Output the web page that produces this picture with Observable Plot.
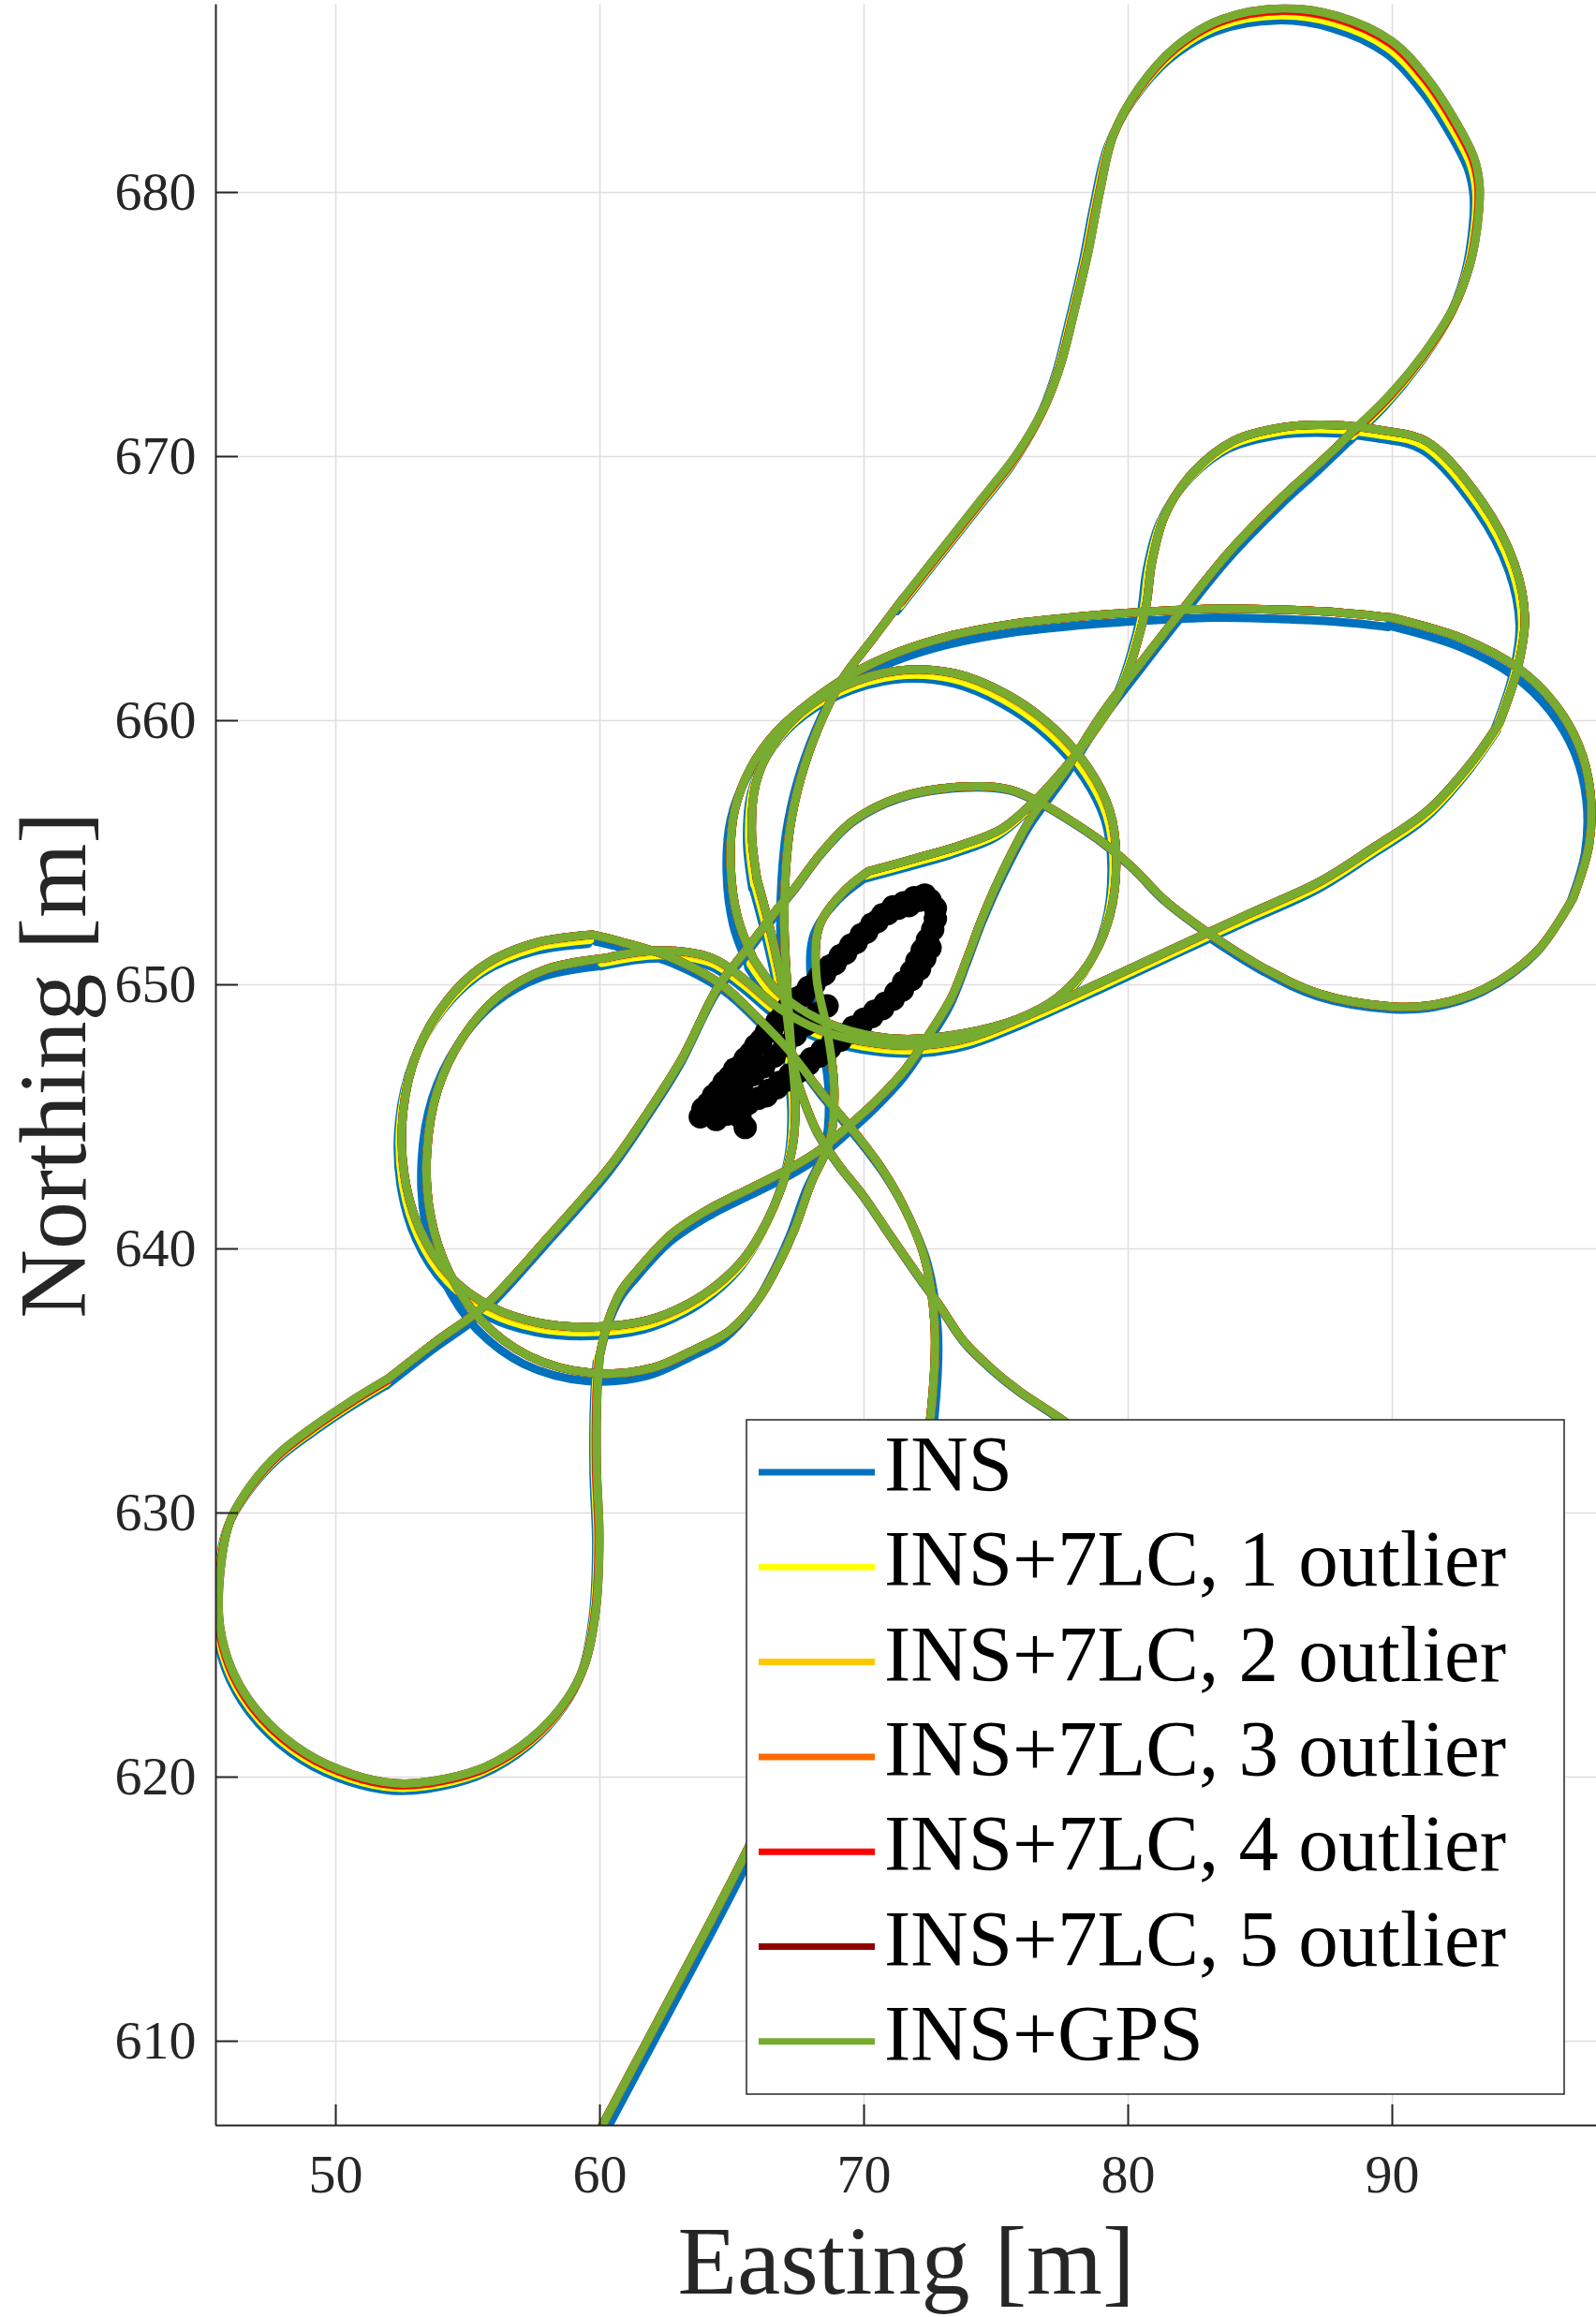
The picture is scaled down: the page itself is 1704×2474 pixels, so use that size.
<!DOCTYPE html>
<html><head><meta charset="utf-8">
<script src="https://cdn.jsdelivr.net/npm/d3@7"></script>
<script src="https://cdn.jsdelivr.net/npm/@observablehq/plot@0.6"></script>
<style>
html,body{margin:0;padding:0;background:#fff;}
#wrap{width:1704px;height:2474px;}
</style></head><body><div id="wrap"></div>
<script>
// ---------- axes ----------
const xDomain = [45.46, 97.73];
const yDomain = [606.81, 687.11];
const xTicks = [50, 60, 70, 80, 90];
const yTicks = [610, 620, 630, 640, 650, 660, 670, 680];

// ---------- series ----------
const seriesNames = ["INS", "INS+7LC, 1 outlier", "INS+7LC, 2 outlier", "INS+7LC, 3 outlier", "INS+7LC, 4 outlier", "INS+7LC, 5 outlier", "INS+GPS"];
const seriesColors = ["#0072BD", "#FFFF00", "#FFC800", "#FF6A00", "#FF0000", "#900000", "#77AC30"];

// ---------- INS+GPS track, read piece by piece [Easting, Northing] ----------
const segApproach = [[59.6,605.9],[60.08,606.8],[62.76,611.84],[65.56,617.21],[68.36,623.36],[70.32,627.5],[71.55,630.47],[72.33,632.54],[72.61,634.67],[72.67,637.18],[72.28,639.7],[71.5,641.61],[70.66,643.06],[69.87,644.13],[68.25,646.09],[67.13,647.54],[65.95,648.77],[64.61,650.0],[62.76,651.01],[60.8,651.63],[59.7,651.9]];
const segLoopA = [[59.7,651.9],[57.6,651.6],[55.7,650.8],[54.2,649.4],[53.1,647.5],[52.55,645.2],[52.6,642.8],[53.2,640.7],[54.3,639.0],[55.9,637.8],[57.7,637.2],[59.7,637.05],[61.8,637.3],[63.3,637.9],[64.5,638.7],[65.5,639.7],[66.3,641.0],[66.9,642.4],[67.3,643.9],[67.4,645.5],[67.2,647.8],[66.9,650.0],[66.4,652.3],[65.95,654.0]];
const segCircle = [[65.95,654.0],[65.75,655.8],[65.9,657.6],[66.5,659.0],[67.6,660.3],[69.2,661.3],[71.3,661.9],[73.4,661.8],[75.4,661.0],[77.2,659.7],[78.5,658.2],[79.3,656.6],[79.55,654.8],[79.3,652.6],[78.5,650.8],[77.3,649.5],[75.8,648.7],[73.7,648.15],[71.4,647.95],[69.5,648.25],[67.9,648.9],[66.7,649.8],[65.8,651.0]];
const segOuter = [[65.8,651.0],[65.2,652.6],[64.95,654.6],[65.1,656.6],[65.7,658.2],[66.7,659.6],[68.1,660.8],[69.6,661.8],[71.3,662.6],[73.2,663.2],[75.5,663.65],[78.8,664.0],[81.1,664.15],[83.5,664.25],[85.9,664.2],[88.0,664.1],[90.0,663.9]];
const segRightTop = [[90.0,663.9],[92.7,663.1],[94.75,662.0],[96.1,660.7],[97.05,659.1],[97.5,657.3],[97.45,655.3],[96.85,653.3]];
const segRightBottom = [[96.85,653.3],[95.5,651.3],[93.5,649.85],[91.6,649.25],[89.97,649.18],[87.24,649.66],[85.19,650.6],[83.14,651.88]];
const segHump = [[83.14,651.88],[81.39,653.2],[80.21,654.4],[79.03,655.4],[77.85,656.2],[76.67,656.9],[75.49,657.4],[73.71,657.5],[71.35,657.1],[69.57,656.2],[68.39,655.0],[67.33,653.6],[66.74,652.9]];
const segDiagSW = [[66.74,652.9],[65.6,651.4],[64.46,649.9],[63.1,647.2],[61.7,645.0],[60.39,643.14],[58.0,640.4],[55.64,637.85],[53.8,636.5],[52.0,635.1]];
const segLoop628 = [[52.0,635.1],[50.6,634.25],[49.2,633.3],[47.9,632.3],[46.82,631.1],[46.0,629.7],[45.62,627.7],[45.62,625.67],[46.14,623.91],[47.23,622.28],[48.85,620.92],[50.62,620.11],[52.25,619.77],[53.6,619.84],[55.64,620.38],[57.4,621.47],[58.76,622.96],[59.44,624.3],[59.85,626.35],[59.98,629.06],[59.88,631.8],[59.9,634.5],[60.0,636.0]];
const segSCurve = [[60.0,636.0],[60.32,637.3],[60.8,638.4],[61.43,639.2],[62.7,640.55],[64.12,641.5],[65.7,642.3],[67.29,643.1],[68.4,643.8],[69.35,644.6],[70.45,645.6],[71.56,646.8],[72.51,648.2],[73.3,649.5],[73.9,651.0],[74.5,652.6],[75.3,654.4],[76.31,656.3],[77.68,658.2],[79.04,660.3],[80.41,662.1],[82.05,664.2],[83.83,666.4],[85.87,668.5],[87.24,669.75],[88.6,671.05]];
const segTopLoop = [[88.6,671.05],[89.97,672.4],[91.2,673.9],[92.3,675.6],[92.95,677.3],[93.25,679.0],[93.3,680.3],[93.1,681.3],[92.45,682.6],[91.34,684.3],[89.97,685.73],[87.92,686.68],[85.87,686.97],[83.55,686.56],[81.78,685.5],[80.41,683.96],[79.45,682.2],[78.91,679.94],[78.5,677.8],[77.95,675.45],[77.45,673.5],[76.79,671.8],[75.79,670.1],[74.46,668.4],[72.8,666.3],[71.46,664.6]];
const segInnerArc = [[71.46,664.6],[70.3,663.06],[69.2,661.6],[68.3,659.8],[67.6,657.8],[67.2,655.95],[67.03,654.2],[66.98,652.4],[67.05,650.6]];
const segLine716 = [[67.05,650.6],[67.15,649.0],[67.25,647.6],[67.44,646.5],[67.77,645.5],[68.24,644.4],[69.03,643.2],[69.98,642.0],[70.93,640.6],[72.04,639.0],[72.83,637.9],[73.78,636.5],[74.9,635.4],[75.9,634.6],[77.4,633.6],[79.0,632.4],[80.6,631.3]];
const segLoop671 = [[70.17,654.3],[72.0,654.8],[73.71,655.3],[75.2,655.9],[76.5,657.0],[77.68,658.3],[78.77,659.7],[79.73,661.2],[80.3,662.8],[80.69,664.4],[80.9,666.0],[81.4,667.8],[82.46,669.4],[84.0,670.6],[85.8,671.1],[87.65,671.2],[89.6,671.0],[91.34,670.55],[93.39,668.3],[94.62,665.96],[95.02,663.9],[94.75,662.0],[94.07,659.95]];
const segSweep = [[94.07,659.95],[92.98,658.4],[91.34,656.6],[89.29,655.2],[87.24,653.9],[84.51,652.66],[81.77,651.4],[79.04,650.13],[76.31,648.9],[74.0,648.0],[72.13,647.7],[70.0,647.85],[68.3,648.3],[66.8,649.1],[65.47,650.2],[64.28,651.0],[62.3,651.3],[60.12,651.0]];
const segLoopB = [[60.12,651.0],[58.0,650.6],[56.2,649.6],[54.8,648.0],[53.85,646.0],[53.45,643.6],[53.6,641.2],[54.3,639.1],[55.5,637.3],[57.3,635.95],[59.7,635.3],[62.0,635.5],[63.6,636.2],[64.9,636.9],[66.0,638.1],[66.8,639.5],[67.39,640.8],[68.0,642.5],[68.71,644.1],[68.87,646.1],[68.6,648.3],[68.2,650.3],[68.3,652.2],[69.2,653.5],[70.17,654.3]];

const segments = [segApproach, segLoopA, segCircle, segOuter, segRightTop, segRightBottom, segHump, segDiagSW, segLoop628, segSCurve, segTopLoop, segInnerArc, segLine716, segLoop671, segSweep, segLoopB];

// ---------- offset of each estimate from INS+GPS on each piece [dE, dN] (m) ----------
const insShift = [[0.12,-0.25],[-0.15,-0.35],[-0.18,-0.35],[-0.15,-0.35],[-0.15,-0.3],[-0.06,-0.1],[0,-0.04],[-0.1,-0.28],[-0.12,-0.28],[-0.05,-0.28],[-0.22,-0.45],[-0.15,-0.2],[0,-0.04],[-0.2,-0.3],[-0.1,-0.3],[-0.2,-0.3]];
const lc1Shift = [[0,0],[-0.08,-0.2],[-0.1,-0.2],[0,0],[0,0],[0,0],[0,0],[0,0],[-0.07,-0.16],[0,0],[-0.12,-0.26],[0,0],[0,0],[-0.1,-0.16],[-0.05,-0.17],[0,0]];
const lc2Shift = [[0,0],[-0.02,-0.06],[-0.02,-0.05],[0,0],[0,0],[0,0],[0,0],[0,0],[-0.03,-0.07],[0,0],[-0.04,-0.1],[0,0],[0,0],[0,0],[-0.02,-0.05],[0,0]];
const lc3Shift = [[0,0],[0,0],[0,0],[0,0],[0,0],[0,0],[0,0],[0,0],[-0.03,-0.07],[0,0],[-0.04,-0.09],[0,0],[0,0],[0,0],[0,0],[0,0]];
const lc4Shift = [[0,0],[0,0],[0,0],[0,0],[0,0],[0,0],[0,0],[0,0],[-0.02,-0.06],[0,0],[-0.03,-0.08],[0,0],[0,0],[0,0],[0,0],[0,0]];
const lc5Shift = [[0,0],[0,0],[0,0],[0,0],[0,0],[0,0],[0,0],[0,0],[0,0],[0,0],[0,0],[0,0],[0,0],[0,0],[0,0],[0,0]];
const gpsShift = [[0,0],[0,0],[0,0],[0,0],[0,0],[0,0],[0,0],[0,0],[0,0],[0,0],[0,0],[0,0],[0,0],[0,0],[0,0],[0,0]];
const shiftTable = [insShift, lc1Shift, lc2Shift, lc3Shift, lc4Shift, lc5Shift, gpsShift];

// ---------- black point cloud ----------
const dotsUpper = [[63.8,645.0],[64.1,645.5],[64.5,646.0],[64.9,646.5],[65.3,646.9],[65.7,647.4],[66.1,647.9],[66.5,648.3],[66.9,648.8],[67.3,649.2],[67.7,649.6],[68.1,650.0],[68.5,650.4],[68.9,650.8],[69.3,651.2],[69.7,651.6],[70.1,652.0],[70.5,652.4],[70.9,652.7],[71.3,652.9],[71.7,653.0],[72.1,653.2],[72.5,653.2],[72.7,652.9],[72.7,652.5],[72.6,652.1]];
const dotsUpperOuter = [[63.9,645.3],[64.3,645.8],[64.7,646.3],[65.1,646.8],[65.5,647.2],[65.9,647.7],[66.3,648.2],[66.7,648.6],[67.1,649.1],[67.5,649.5],[67.9,649.9],[68.3,650.3],[68.7,650.7],[69.1,651.1],[69.5,651.5],[69.9,651.9],[70.3,652.3],[70.7,652.65],[71.1,652.95],[71.5,653.1],[71.9,653.3],[72.3,653.4]];
const dotsLower = [[72.4,651.7],[72.2,651.3],[72.0,650.9],[71.8,650.5],[71.5,650.1],[71.2,649.7],[70.8,649.3],[70.4,649.0],[70.0,648.7],[69.6,648.4],[69.2,648.1],[68.8,647.8],[68.4,647.5],[68.0,647.2],[67.6,646.9],[67.2,646.6],[66.8,646.3],[66.4,646.0],[66.0,645.7],[65.6,645.5],[65.2,645.3],[64.8,645.1],[64.4,644.9]];
const dotsLowerOuter = [[72.5,651.4],[72.3,651.0],[72.1,650.6],[71.8,650.2],[71.45,649.8],[71.1,649.45],[70.7,649.1],[70.3,648.8],[69.9,648.5],[69.5,648.2],[69.1,647.9],[68.7,647.6],[68.3,647.3],[67.9,647.0],[67.5,646.7],[67.1,646.4],[66.7,646.1],[66.3,645.8]];
const dotsMiddle = [[64.6,645.6],[65.0,646.0],[65.4,646.3],[65.8,646.6],[66.2,646.9],[66.6,647.3],[67.0,647.7],[67.4,648.1],[67.8,648.5],[68.2,648.9],[68.6,649.2],[65.3,645.0],[65.5,644.6]];

// ---------- build ----------
const FONT = '"Liberation Serif", "DejaVu Serif", serif';
const W = 1704, H = 2474, mT = 4.5, mB = 205, mL = 230, mR = 0;
const plotW = W - mL - mR, plotH = H - mT - mB;

function trackRows(si) {
  const sh = shiftTable[si];
  return segments.flatMap((seg, k) => seg.map(([x, y]) => ({part: k, x: x + sh[k][0], y: y + sh[k][1]})));
}
const dots = dotsUpper.concat(dotsUpperOuter, dotsLower, dotsLowerOuter, dotsMiddle).map(([x, y]) => ({x, y}));

const lineMarks = seriesNames.map((name, si) =>
  Plot.line(trackRows(si), {x: "x", y: "y", z: "part", stroke: seriesColors[si], strokeWidth: 9, curve: "catmull-rom", clip: true})
);

const chart = Plot.plot({
  width: W, height: H,
  marginTop: mT, marginBottom: mB, marginLeft: mL, marginRight: mR,
  x: {domain: xDomain, label: null},
  y: {domain: yDomain, label: null},
  style: {background: "white", fontFamily: FONT, color: "#262626"},
  marks: [
    Plot.gridX(xTicks, {stroke: "#dedede", strokeOpacity: 1, strokeWidth: 1.6}),
    Plot.gridY(yTicks, {stroke: "#dedede", strokeOpacity: 1, strokeWidth: 1.6}),
    ...lineMarks.slice(0, 6),
    Plot.dot(dots, {x: "x", y: "y", r: 12.5, fill: "black", stroke: "none"}),
    lineMarks[6],
    Plot.ruleX([xDomain[0]], {stroke: "#262626", strokeWidth: 2}),
    Plot.ruleY([yDomain[0]], {stroke: "#262626", strokeWidth: 2}),
    Plot.tickX(xTicks, {x: d => d, insetTop: plotH - 22, stroke: "#262626", strokeWidth: 2}),
    Plot.tickY(yTicks, {y: d => d, insetRight: plotW - 24, stroke: "#262626", strokeWidth: 2}),
    Plot.axisX(xTicks, {tickSize: 0, tickPadding: 30, fontSize: 58, fontFamily: FONT, label: null, fill: "#262626"}),
    Plot.axisY(yTicks, {tickSize: 0, tickPadding: 21, fontSize: 58, fontFamily: FONT, label: null, fill: "#262626"}),
    Plot.text(["Easting [m]"], {frameAnchor: "bottom", textAnchor: "middle", lineAnchor: "middle", dy: 146, fontSize: 104, fontFamily: FONT, fill: "#262626"}),
    Plot.text(["Northing [m]"], {frameAnchor: "left", textAnchor: "middle", lineAnchor: "middle", dx: -172, rotate: -90, fontSize: 102, fontFamily: FONT, fill: "#262626"})
  ]
});

// legend box (inside the axes, lower right)
const svg = d3.select(chart);
const lg = svg.append("g").attr("class", "legend");
lg.append("rect").attr("x", 797).attr("y", 1516).attr("width", 873).attr("height", 720)
  .attr("fill", "white").attr("stroke", "#262626").attr("stroke-width", 1.5);
seriesNames.forEach((name, i) => {
  const yy = 1572 + i * 101.3;
  lg.append("line").attr("x1", 810).attr("x2", 934).attr("y1", yy).attr("y2", yy)
    .attr("stroke", seriesColors[i]).attr("stroke-width", 7);
  lg.append("text").attr("x", 944).attr("y", yy + 20).attr("font-size", 85)
    .attr("text-anchor", "start").attr("font-family", FONT).attr("fill", "#000").text(name);
});

document.getElementById("wrap").appendChild(chart);
</script></body></html>
